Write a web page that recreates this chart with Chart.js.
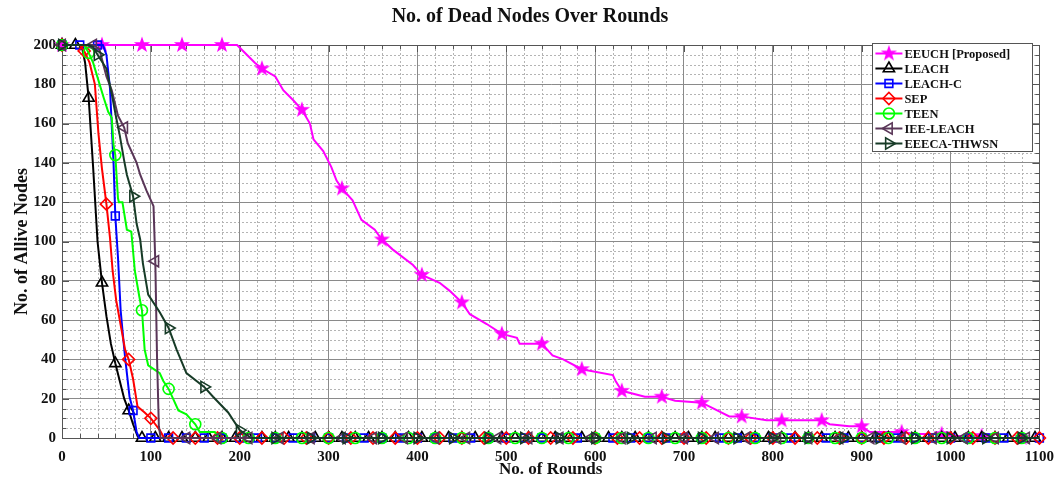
<!DOCTYPE html>
<html>
<head>
<meta charset="utf-8">
<script src="https://cdn.jsdelivr.net/npm/chart.js@4.4.1/dist/chart.umd.min.js"></script>
<style>
  html, body { margin: 0; padding: 0; background: #fff; }
  #wrap { width: 1064px; height: 480px; }
</style>
</head>
<body>
<div id="wrap"><canvas id="deadChart" width="1064" height="480"></canvas></div>
<script>
const chartTitle = "No. of Dead Nodes Over Rounds";
const seriesNames = ["EEUCH [Proposed]", "LEACH", "LEACH-C", "SEP", "TEEN", "IEE-LEACH", "EEECA-THWSN"];
const xTicks = [0, 100, 200, 300, 400, 500, 600, 700, 800, 900, 1000, 1100];
const yTicks = [0, 20, 40, 60, 80, 100, 120, 140, 160, 180, 200];

// alive nodes per round, one pair of arrays per protocol
const eeuchRounds = [0,45,90,135,180,197,208,217,225,240,249,260,270,279,283,294,303,309,315,327,337,352,360,372,395,405,425,436,450,459,478,495,512,515,540,552,564,585,620,623,630,656,675,690,720,751,765,793,810,855,864,886,900,909,945,960,990,1000,1035,1047,1080,1100];
const eeuchAlive  = [200,200,200,200,200,200,195,191,188,184,177,172,167,160,152,146,138,131,127,121,111,106,101,96,88,83,79,75,69,63,58,53,51,48,48,42,40,35,32,29,24,21,21,19,18,11,11,9,9,9,7,6,6,3,3,2,2,1,1,0,0,0];

const leachRounds = [0,15,22,26,30,35,40,45,50,55,60,65,70,75,80,85,87,
  90,105,120,135,150,165,180,195,210,225,240,255,270,285,300,315,330,345,360,375,390,405,420,435,450,465,480,495,510,525,540,555,570,585,
  600,615,630,645,660,675,690,705,720,735,750,765,780,795,810,825,840,855,870,885,900,915,930,945,960,975,990,1005,1020,1035,1050,1065,1080,1095,1100];
const leachAlive  = [200,200,200,191,173,138,100,79,62,48,38,29,20,14,7,1,0,
  0,0,0,0,0,0,0,0,0,0, 0,0,0,0,0,0,0,0,0,0, 0,0,0,0,0,0,0,0,0,0, 0,0,0,0,0,0,0,0,0,0, 0,0,0,0,0,0,0,0,0,0, 0,0,0,0,0,0,0,0,0,0, 0,0,0,0,0,0,0,0,0];

const leachCRounds = [0,20,40,46,50,54,58,60,63,66,68,71,76,80,84,87,
  100,120,140,160,180,200,220,240,260,280,300,320,340,360,380,400,420,440,460,480,500,520,540,560,580,600,620,640,660,680,
  700,720,740,760,780,800,820,840,860,880,900,920,940,960,980,1000,1020,1040,1060,1080,1100];
const leachCAlive  = [200,200,200,200,195,178,140,113,92,65,55,41,21,14,3,0,
  0,0,0,0,0,0,0,0,0,0, 0,0,0,0,0,0,0,0,0,0, 0,0,0,0,0,0,0,0,0,0, 0,0,0,0,0,0,0,0,0,0, 0,0,0,0,0,0,0,0,0,0, 0];

const sepRounds = [0,20,25,31,37,41,45,50,54,57,61,67,71,75,80,85,93,100,105,110,115,
  125,150,175,200,225,250,275,300,325,350,375,400,425,450,475,500,525,550,575,600,625,650,675,700,725,750,775,800,825,850,875,900,925,950,975,1000,1025,1050,1075,1100];
const sepAlive  = [200,200,197,191,180,155,137,119,102,85,70,55,45,40,30,16,13,10,7,4,0,
  0,0,0,0,0,0,0,0,0,0, 0,0,0,0,0,0,0,0,0,0, 0,0,0,0,0,0,0,0,0,0, 0,0,0,0,0,0,0,0,0,0];

const teenRounds = [0,25,30,35,41,47,52,56,58,60,63,64,68,73,78,82,87,90,93,97,110,114,120,126,131,140,146,150,155,172,176,
  180,210,240,270,300,330,360,390,420,450,480,510,540,570,600,630,660,690,720,750,780,810,840,870,900,930,960,990,1020,1050,1080,1100];
const teenAlive  = [200,200,196,191,182,173,166,163,149,144,122,120,120,106,105,85,72,65,45,37,33,29,25,19,14,12,9,7,3,3,0,
  0,0,0,0,0,0,0,0,0,0, 0,0,0,0,0,0,0,0,0,0, 0,0,0,0,0,0,0,0,0,0, 0,0];

const ieeRounds = [0,35,42,50,56,63,70,74,84,88,95,103,105,107,109,111,
  140,175,210,245,280,315,350,385,420,455,490,525,560,595,630,665,700,735,770,805,840,875,910,945,980,1015,1050,1085,1100];
const ieeAlive  = [200,200,198,184,177,164,158,150,140,134,126,118,90,40,6,0,
  0,0,0,0,0,0,0,0,0,0, 0,0,0,0,0,0,0,0,0,0, 0,0,0,0,0,0,0,0,0];

const eeecaRounds = [0,30,35,40,50,56,61,65,70,73,80,84,88,91,97,110,120,129,140,160,170,187,200,213,
  240,280,320,360,400,440,480,520,560,600,640,680,720,760,800,840,880,920,960,1000,1040,1080,1100];
const eeecaAlive  = [200,200,199,195,188,175,163,154,141,134,123,109,101,89,73,64,56,45,33,26,21,13,4,0,
  0,0,0,0,0,0,0,0,0,0, 0,0,0,0,0,0,0,0,0,0, 0,0,0];

const serif = '"Liberation Serif", "Times New Roman", serif';

// filled five-point star, used as an image point style
function makeStar(color, size) {
  const c = document.createElement("canvas");
  c.width = c.height = size;
  const g = c.getContext("2d");
  const R = size / 2 - 0.5, r = R * 0.4, cx = size / 2, cy = size / 2;
  g.beginPath();
  for (let i = 0; i < 10; i++) {
    const a = -Math.PI / 2 + i * Math.PI / 5;
    const rr = i % 2 ? r : R;
    g.lineTo(cx + rr * Math.cos(a), cy + rr * Math.sin(a));
  }
  g.closePath();
  g.fillStyle = color;
  g.fill();
  return c;
}

const series = [
  { rounds: eeuchRounds,  alive: eeuchAlive,  color: "#ff00ff", style: makeStar("#ff00ff", 18), rot: 0,   radius: 8,   step: 45 },
  { rounds: leachRounds,  alive: leachAlive,  color: "#000000", style: "triangle",              rot: 0,   radius: 6.5, step: 15 },
  { rounds: leachCRounds, alive: leachCAlive, color: "#0000ff", style: "rect",                  rot: 0,   radius: 5.5, step: 20 },
  { rounds: sepRounds,    alive: sepAlive,    color: "#ff0000", style: "rectRot",               rot: 0,   radius: 6,   step: 25 },
  { rounds: teenRounds,   alive: teenAlive,   color: "#00ff00", style: "circle",                rot: 0,   radius: 5.5, step: 30 },
  { rounds: ieeRounds,    alive: ieeAlive,    color: "#5a3658", style: "triangle",              rot: -90, radius: 6.5, step: 35 },
  { rounds: eeecaRounds,  alive: eeecaAlive,  color: "#173b27", style: "triangle",              rot: 90,  radius: 6.5, step: 40 }
];

const datasets = series.map((s, i) => ({
  label: seriesNames[i],
  data: s.rounds.map((r, k) => ({ x: r, y: s.alive[k] })),
  borderColor: s.color,
  backgroundColor: s.color,
  borderWidth: 2,
  pointStyle: s.style,
  pointRotation: s.rot,
  pointBorderColor: s.color,
  pointBackgroundColor: "rgba(0,0,0,0)",
  pointBorderWidth: 1.6,
  pointRadius: ctx => (ctx.raw && ctx.raw.x % s.step === 0 ? s.radius : 0),
  pointHoverRadius: 0,
  tension: 0,
  clip: false,
  order: series.length - 1 - i
}));

// white page, centred title, dotted minor grid under the major lines
const frame = {
  id: "frame",
  beforeDraw(chart) {
    const { ctx, chartArea: a, scales: { x, y } } = chart;
    ctx.save();
    ctx.fillStyle = "#fff";
    ctx.fillRect(0, 0, chart.width, chart.height);
    ctx.fillStyle = "#111";
    ctx.font = "bold 20px " + serif;
    ctx.textAlign = "center";
    ctx.textBaseline = "middle";
    ctx.fillText(chartTitle, chart.width / 2 - 2, 17);
    ctx.strokeStyle = "#b4b4b4";
    ctx.lineWidth = 1;
    ctx.setLineDash([2, 2]);
    ctx.beginPath();
    for (let v = 0; v <= 1100; v += 20) {
      if (v % 100 === 0) continue;
      const px = Math.round(x.getPixelForValue(v)) + 0.5;
      ctx.moveTo(px, a.top); ctx.lineTo(px, a.bottom);
    }
    for (let v = 0; v <= 200; v += 5) {
      if (v % 20 === 0) continue;
      const py = Math.round(y.getPixelForValue(v)) + 0.5;
      ctx.moveTo(a.left, py); ctx.lineTo(a.right, py);
    }
    ctx.stroke();
    ctx.restore();
  },
  beforeDatasetsDraw(chart) {
    const { ctx, chartArea: a, scales: { x, y } } = chart;
    ctx.save();
    ctx.strokeStyle = "#555";
    ctx.lineWidth = 1;
    ctx.strokeRect(Math.round(a.left) + 0.5, Math.round(a.top) + 0.5, Math.round(a.right - a.left), Math.round(a.bottom - a.top));
    // inward tick marks on all four sides
    ctx.beginPath();
    for (let v = 0; v <= 1100; v += 20) {
      const px = Math.round(x.getPixelForValue(v)) + 0.5;
      const len = v % 100 === 0 ? 7 : 4;
      ctx.moveTo(px, a.top); ctx.lineTo(px, a.top + len);
      ctx.moveTo(px, a.bottom); ctx.lineTo(px, a.bottom - len);
    }
    for (let v = 0; v <= 200; v += 5) {
      const py = Math.round(y.getPixelForValue(v)) + 0.5;
      const len = v % 20 === 0 ? 7 : 4;
      ctx.moveTo(a.left, py); ctx.lineTo(a.left + len, py);
      ctx.moveTo(a.right, py); ctx.lineTo(a.right - len, py);
    }
    ctx.stroke();
    ctx.restore();
  }
};

// boxed legend in the upper right corner of the plot
const boxLegend = {
  id: "boxLegend",
  afterDraw(chart) {
    const { ctx, chartArea: a } = chart;
    const w = 160, rowH = 15, h = 108;
    const left = a.right - 7 - w, top = a.top - 2;
    ctx.save();
    ctx.fillStyle = "#fff";
    ctx.fillRect(left, top, w, h);
    ctx.strokeStyle = "#555";
    ctx.lineWidth = 1;
    ctx.strokeRect(Math.round(left) + 0.5, Math.round(top) + 0.5, w, h);
    ctx.font = "bold 12.5px " + serif;
    ctx.textBaseline = "middle";
    series.forEach((s, i) => {
      const cy = top + 10.5 + i * rowH;
      const x0 = left + 3, x1 = left + 30, cx = (x0 + x1) / 2;
      ctx.strokeStyle = s.color;
      ctx.lineWidth = 2;
      ctx.beginPath(); ctx.moveTo(x0, cy); ctx.lineTo(x1, cy); ctx.stroke();
      ctx.lineWidth = 1.6;
      ctx.fillStyle = "rgba(0,0,0,0)";
      Chart.helpers.drawPoint(ctx, { pointStyle: s.style, rotation: s.rot, radius: s.radius, borderWidth: 1.6 }, cx, cy);
      ctx.fillStyle = "#111";
      ctx.fillText(seriesNames[i], x1 + 2, cy + 1);
    });
    ctx.restore();
  }
};

new Chart(document.getElementById("deadChart"), {
  type: "line",
  data: { datasets },
  options: {
    responsive: false,
    animation: false,
    layout: { padding: { left: 0, right: 24, top: 45, bottom: 0 } },
    plugins: {
      legend: { display: false },
      tooltip: { enabled: false },
      title: { display: false }
    },
    scales: {
      x: {
        type: "linear",
        min: 0,
        max: 1100,
        afterFit: s => { s.height = 42; },
        afterBuildTicks: s => { s.ticks = xTicks.map(v => ({ value: v })); },
        ticks: { color: "#111", font: { family: serif, size: 15, weight: "bold" }, padding: 10, callback: v => String(v) },
        grid: { color: "#8a8a8a", lineWidth: 1, drawTicks: false },
        border: { display: true, color: "#555" },
        title: { display: true, text: "No. of Rounds", color: "#111", font: { family: serif, size: 17, weight: "bold" }, padding: { top: 0, bottom: 0 } }
      },
      y: {
        min: 0,
        max: 200,
        afterFit: s => { s.width = 62; },
        afterBuildTicks: s => { s.ticks = yTicks.map(v => ({ value: v })); },
        ticks: { color: "#111", font: { family: serif, size: 15, weight: "bold" }, padding: 6, callback: v => String(v) },
        grid: { color: "#8a8a8a", lineWidth: 1, drawTicks: false },
        border: { display: true, color: "#555" },
        title: { display: true, text: "No. of Allive Nodes", color: "#111", font: { family: serif, size: 18, weight: "bold" }, padding: { top: 12, bottom: 0 } }
      }
    }
  },
  plugins: [frame, boxLegend]
});
</script>
</body>
</html>
